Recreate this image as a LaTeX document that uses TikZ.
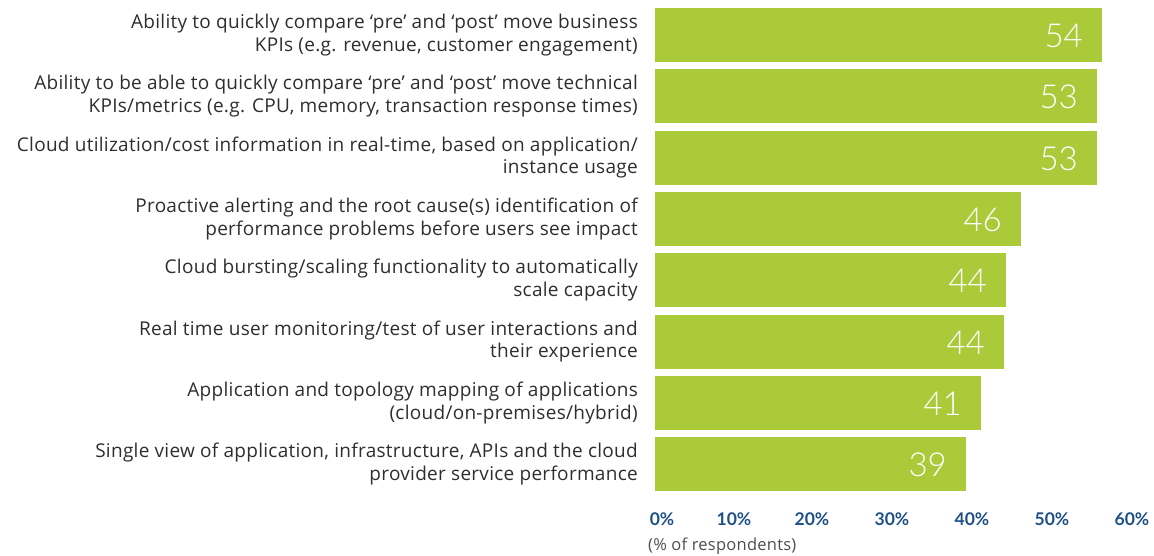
\documentclass[tikz,border=0pt]{standalone}
\usepackage{fontspec}
\setmainfont{Open Sans}[LetterSpace=1.5]
\newfontfamily\thinfont{Lato Light}
\newfontfamily\tickfont{Lato}
\usepackage{tikz}
\usetikzlibrary{positioning}
\definecolor{bargreen}{HTML}{ABCA3A}
\definecolor{axisblue}{HTML}{1D4F88}
\definecolor{labelgray}{HTML}{2E2E2E}

\begin{document}
\begin{tikzpicture}[x=1pt, y=-1pt]
		\tikzstyle{bar} = [fill=bargreen, draw=none]
		\tikzstyle{cat} = [anchor=east, align=right, text=labelgray, inner sep=0pt, font=\fontsize{19}{22.5}\selectfont]
		\tikzstyle{val} = [anchor=east, text=white, inner sep=0pt, font=\thinfont\fontsize{33}{33}\selectfont]
		\tikzstyle{tick} = [text=axisblue, inner sep=0pt, font=\tickfont\bfseries\fontsize{17.5}{17.5}\selectfont]

		\useasboundingbox (0,0) rectangle (1154,556);

		% bars, labels and values
		\foreach \i/\v/\e/\txt in {
			1/54/1102/{Ability to quickly compare `pre' and `post' move business\\KPIs (e.g. revenue, customer engagement)},
			2/53/1097/{Ability to be able to quickly compare `pre' and `post' move technical\\KPIs/metrics (e.g. CPU, memory, transaction response times)},
			3/53/1097/{Cloud utilization/cost information in real-time, based on application/\\instance usage},
			4/46/1021/{Proactive alerting and the root cause(s) identification of\\performance problems before users see impact},
			5/44/1006/{Cloud bursting/scaling functionality to automatically\\scale capacity},
			6/44/1004/{Real time user monitoring/test of user interactions and\\their experience},
			7/41/981/{Application and topology mapping of applications\\(cloud/on-premises/hybrid)},
			8/39/966/{Single view of application, infrastructure, APIs and the cloud\\provider service performance}}
		{
			\pgfmathsetmacro{\top}{8+(\i-1)*61.3}
			\path[bar] (655,\top) rectangle (\e,\top+54);
			\node[cat] (l\i) at (638,\top+27) {\txt};
			\node[val] (v\i) at (\e-19,\top+28) {\v};
		}

		% axis
		\foreach \k/\x in {0/662, 10/734, 20/812, 30/892, 40/972, 50/1052, 60/1132}
			\node[tick] (t\k) at (\x,519) {\k\%};
		\node[anchor=west, text=labelgray!85, inner sep=0pt, font=\fontsize{16.5}{16.5}\selectfont] (unit) at (648,546) {(\% of respondents)};
\end{tikzpicture}
\end{document}
